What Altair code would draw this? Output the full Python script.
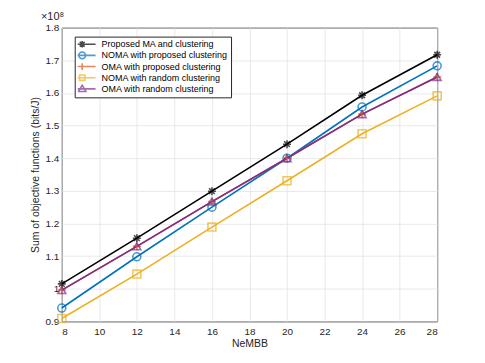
import altair as alt
import pandas as pd

nembb = [8, 12, 16, 20, 24, 28]
series_names = [
    "Proposed MA and clustering",
    "NOMA with proposed clustering",
    "OMA with proposed clustering",
    "NOMA with random clustering",
    "OMA with random clustering",
]
proposed_ma = [1.015, 1.155, 1.299, 1.443, 1.593, 1.717]
noma_prop = [0.941, 1.098, 1.250, 1.400, 1.557, 1.683]
oma_prop = [0.996, 1.130, 1.267, 1.400, 1.535, 1.649]
noma_rand = [0.909, 1.045, 1.189, 1.331, 1.475, 1.591]
oma_rand = [0.996, 1.130, 1.267, 1.400, 1.535, 1.649]
x_ticks = [8, 10, 12, 14, 16, 18, 20, 22, 24, 26, 28]
y_ticks = [0.9, 1.0, 1.1, 1.2, 1.3, 1.4, 1.5, 1.6, 1.7, 1.8]

colors = ["#000000", "#0072BD", "#D95319", "#EDB120", "#7E2F8E"]
plot_shapes = [
    "M-1,0L1,0M0,-1L0,1M-0.72,-0.72L0.72,0.72M-0.72,0.72L0.72,-0.72",
    "circle",
    "M-1,0L1,0M0,-1L0,1",
    "square",
    "triangle-up",
]
legend_shapes = [
    "M-4,0L4,0M0,-1L0,1M-0.72,-0.72L0.72,0.72M-0.72,0.72L0.72,-0.72",
    "M-4,0L4,0M-1,0A1,1 0 1,1 1,0A1,1 0 1,1 -1,0",
    "M-4,0L4,0M0,-1L0,1",
    "M-4,0L4,0M-0.8,-0.8L0.8,-0.8L0.8,0.8L-0.8,0.8Z",
    "M-4,0L4,0M0,-1.1L1.1,0.8L-1.1,0.8Z",
]

rows = []
for name, vals in zip(series_names, [proposed_ma, noma_prop, oma_prop, noma_rand, oma_rand]):
    for xv, yv in zip(nembb, vals):
        rows.append({"NeMBB": xv, "value": yv, "series": name})
df = pd.DataFrame(rows)

font = "Liberation Sans"
xenc = alt.X("NeMBB:Q", scale=alt.Scale(domain=[8, 28], nice=False),
             axis=alt.Axis(values=x_ticks, title="NeMBB", grid=True, ticks=False,
                           labelPadding=5, titlePadding=2, domain=False))
yenc = alt.Y("value:Q", scale=alt.Scale(domain=[0.9, 1.8], nice=False, zero=False),
             axis=alt.Axis(values=y_ticks, format="~g", title="Sum of objective functions (bits/J)",
                           grid=True, ticks=False, labelPadding=3, titlePadding=4, domain=False))
cscale = alt.Scale(domain=series_names, range=colors)


def make_legend():
    return alt.Legend(title=None, orient="none", legendX=13, legendY=9,
                      labelFont=font, labelFontSize=9, labelColor="#000000",
                      symbolSize=45, symbolStrokeWidth=1.6, labelOffset=15,
                      rowPadding=1.2, padding=3, clipHeight=9.3, fillColor="white",
                      strokeColor="#262626", labelLimit=300)


lines = alt.Chart(df).mark_line(strokeWidth=1.6).encode(
    x=xenc, y=yenc,
    color=alt.Color("series:N", scale=cscale, legend=None),
    detail="series:N",
)
points = alt.Chart(df).mark_point(filled=False, strokeWidth=1.6, size=64).encode(
    x=xenc, y=yenc,
    color=alt.Color("series:N", scale=cscale, legend=None),
    shape=alt.Shape("series:N", scale=alt.Scale(domain=series_names, range=plot_shapes), legend=None),
)
legend_layer = alt.Chart(df).transform_filter("false").mark_point(filled=False, strokeWidth=1.6).encode(
    x=xenc, y=yenc,
    color=alt.Color("series:N", scale=cscale, legend=make_legend()),
    shape=alt.Shape("series:N", scale=alt.Scale(domain=series_names, range=legend_shapes),
                    legend=make_legend()),
)

chart = alt.layer(lines, points, legend_layer).resolve_scale(
    color="independent", shape="independent"
).properties(
    width=377, height=295,
    title=alt.Title("×10⁸", anchor="start", fontSize=11, font=font, fontWeight="normal",
                    color="#262626", offset=1, dx=10),
    autosize=alt.AutoSizeParams(type="none"),
    padding={"left": 54, "top": 19, "right": 40, "bottom": 33},
).configure_view(
    stroke="#262626", strokeWidth=1
).configure_axis(
    labelFont=font, labelFontSize=10, labelColor="#262626",
    titleFont=font, titleFontSize=10.5, titleColor="#262626", titleFontWeight="normal",
    gridColor="#e3e3e3", gridWidth=0.8,
)

chart.save("out.html", embed_options={"renderer": "svg", "actions": False})
